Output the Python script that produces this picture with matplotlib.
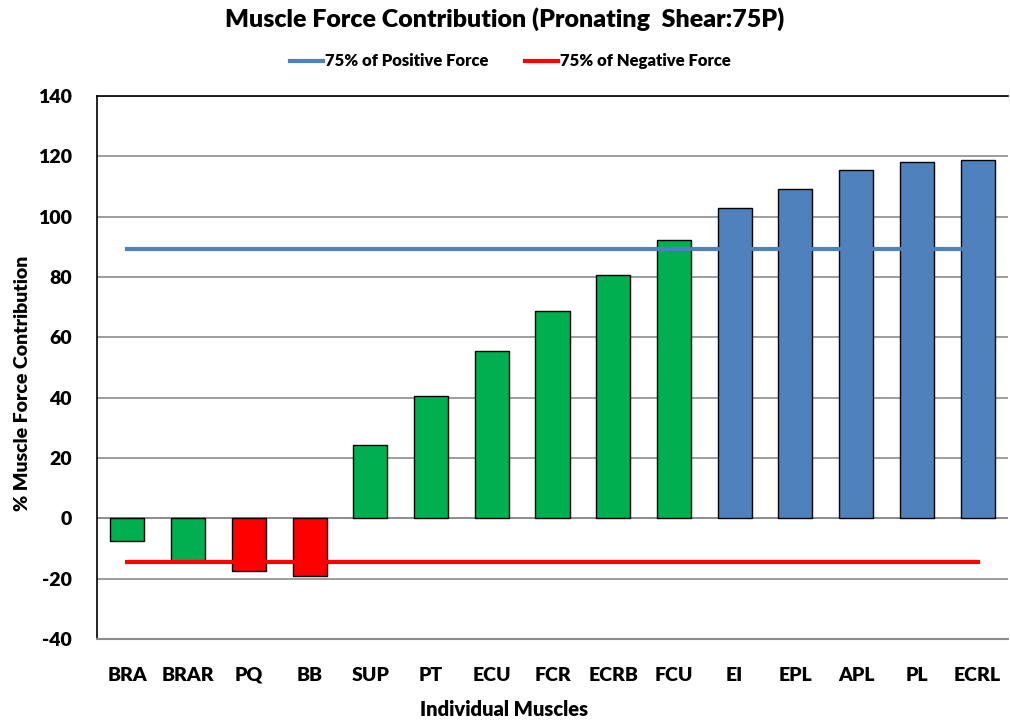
import numpy as np
import matplotlib.pyplot as plt

plt.rcParams['font.family'] = ['Lato', 'DejaVu Sans']
plt.rcParams['font.weight'] = 'heavy'
plt.rcParams['axes.labelweight'] = 'heavy'
plt.rcParams['figure.titleweight'] = 'heavy'
plt.rcParams['axes.unicode_minus'] = False

muscles = ['BRA', 'BRAR', 'PQ', 'BB', 'SUP', 'PT', 'ECU', 'FCR', 'ECRB', 'FCU',
           'EI', 'EPL', 'APL', 'PL', 'ECRL']
force = [-7.6, -14.1, -17.5, -19.1, 24.2, 40.6, 55.5, 68.7, 80.8, 92.3,
         102.9, 109.3, 115.4, 118.0, 118.8]
group = ['mid', 'mid', 'neg', 'neg', 'mid', 'mid', 'mid', 'mid', 'mid', 'mid',
         'pos', 'pos', 'pos', 'pos', 'pos']
pos75 = 89.3
neg75 = -14.5

blue = '#4F81BD'
green = '#00B050'
red = '#FF0000'
group_colors = {'pos': blue, 'mid': green, 'neg': red}
colors = [group_colors[g] for g in group]

fig = plt.figure(figsize=(10.1, 7.25), dpi=100)
ax = fig.add_axes([97/1010, 86/725, 911/1010, 543/725])

x = np.arange(len(muscles))
ax.bar(x, force, width=0.56, color=colors, edgecolor='black', linewidth=1.0, zorder=3)

ax.plot(x, [pos75] * len(x), color=blue, lw=3, zorder=4, label='75% of Positive Force')
ax.plot(x, [neg75] * len(x), color=red, lw=3, zorder=4, label='75% of Negative Force')

ax.set_xlim(-0.5, len(muscles) - 0.5)
ax.set_ylim(-40, 140)
ax.set_yticks(range(-40, 141, 20))
ax.yaxis.grid(True, color='#8c8c8c', lw=1.2, zorder=0)
ax.axhline(0, color='#8c8c8c', lw=1.2, zorder=1)
ax.tick_params(axis='y', length=0, labelsize=14, pad=18)
ax.tick_params(axis='x', length=0, labelsize=14, pad=20)
ax.set_xticks(x)
ax.set_xticklabels(muscles)
for s in ['left', 'top']:
    ax.spines[s].set_color('black')
    ax.spines[s].set_linewidth(1.2)
ax.spines['right'].set_visible(False)
ax.spines['bottom'].set_color('#8c8c8c')
ax.spines['bottom'].set_linewidth(1.5)

ax.set_xlabel('Individual Muscles', fontsize=14.5)
ax.set_ylabel('% Muscle Force Contribution', fontsize=14)
ax.xaxis.set_label_coords((504 - 97) / 911, -61 / 543)
ax.yaxis.set_label_coords(-66 / 911, (639 - 383) / 543)

fig.suptitle('Muscle Force Contribution (Pronating  Shear:75P)', fontsize=18, y=0.99)
fig.legend(loc='upper center', bbox_to_anchor=(0.505, 0.947), ncol=2, frameon=False,
           fontsize=12, handlelength=2.0, columnspacing=2.2, handletextpad=0.1)

fig.savefig('out.png', dpi=100)
